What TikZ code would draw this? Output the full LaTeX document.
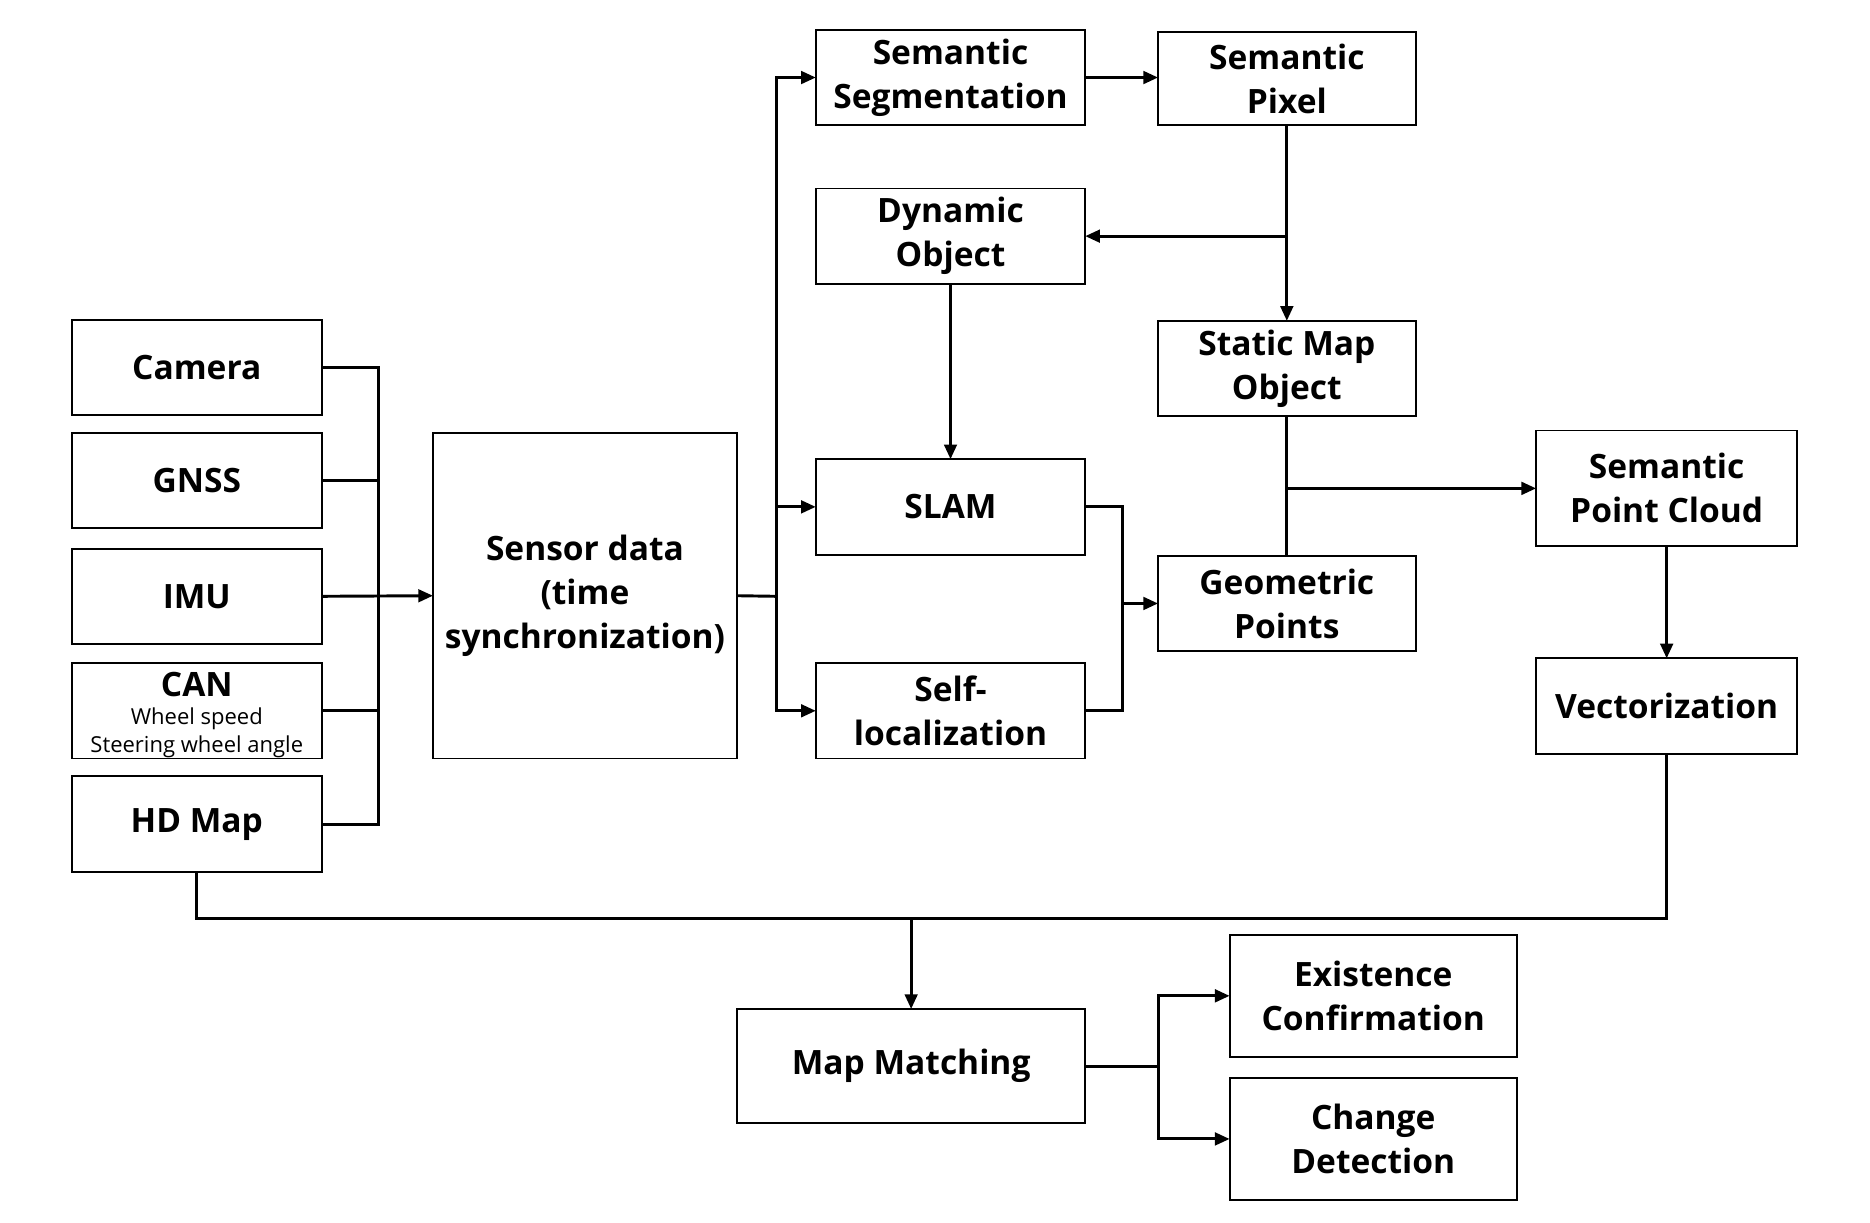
\documentclass[tikz,border=0pt]{standalone}
\usepackage{fontspec}
\setmainfont{Open Sans}
\usetikzlibrary{arrows.meta}
\begin{document}
\begin{tikzpicture}[x=0.02cm,y=-0.02cm,
  box/.style={draw,line width=0.9pt,rectangle,inner sep=0pt,outer sep=0pt,align=center,
    font=\fontsize{16}{21}\selectfont\bfseries},
  txt/.style={inner sep=0pt,outer sep=0pt,font=\fontsize{16}{21}\selectfont\bfseries},
  smalltxt/.style={inner sep=0pt,outer sep=0pt,font=\fontsize{10.5}{12}\selectfont},
  line/.style={line width=1.4pt},
  arr/.style={line width=1.4pt,-{Triangle[length=7pt,width=6pt]}}]
\useasboundingbox[fill=white] (0,0) rectangle (1568,1025);
% sensors
\node[box,minimum width=4.2cm,minimum height=1.6cm] (cam) at (165,308) {Camera};
\node[box,minimum width=4.2cm,minimum height=1.6cm] (gnss) at (165,403) {GNSS};
\node[box,minimum width=4.2cm,minimum height=1.6cm] (imu) at (165,500) {IMU};
\node[box,minimum width=4.2cm,minimum height=1.6cm] (can) at (165,596) {};
\node[txt] (canT) at (165,574) {CAN};
\node[smalltxt] (canW) at (165,603) {Wheel speed};
\node[smalltxt] (canS) at (165,626) {Steering wheel angle};
\node[box,minimum width=4.2cm,minimum height=1.6cm] (hd) at (165,691) {HD Map};
\node[box,minimum width=5.1cm,minimum height=5.46cm] (sensor) at (490.5,499.5)
  {Sensor data\\(time\\synchronization)};
% middle
\node[box,minimum width=4.52cm,minimum height=1.6cm] (seg) at (797,65) {Semantic\\Segmentation};
\node[box,minimum width=4.32cm,minimum height=1.56cm] (pix) at (1079,66) {Semantic\\Pixel};
\node[box,minimum width=4.52cm,minimum height=1.6cm] (dyn) at (797,198) {Dynamic\\Object};
\node[box,minimum width=4.32cm,minimum height=1.6cm] (static) at (1079,309) {Static Map\\Object};
\node[box,minimum width=4.52cm,minimum height=1.6cm] (slam) at (797,425) {SLAM};
\node[box,minimum width=4.52cm,minimum height=1.6cm] (selfloc) at (797,596) {Self-\\localization};
\node[box,minimum width=4.32cm,minimum height=1.6cm] (geo) at (1079,506) {Geometric\\Points};
\node[box,minimum width=4.38cm,minimum height=1.94cm] (spc) at (1397.5,409.5) {Semantic\\Point Cloud};
\node[box,minimum width=4.38cm,minimum height=1.6cm] (vec) at (1397.5,592) {Vectorization};
% bottom
\node[box,minimum width=5.84cm,minimum height=1.92cm] (mm) at (764,894) {Map Matching};
\node[box,minimum width=4.82cm,minimum height=2.04cm] (exist) at (1151.5,835) {Existence\\Confirmation};
\node[box,minimum width=4.82cm,minimum height=2.04cm] (change) at (1151.5,955) {Change\\Detection};
% coordinates
\coordinate (bt) at (317,308);
\coordinate (sx) at (651,500);
\coordinate (jx) at (941,506);
\coordinate (by) at (764,770);
\coordinate (mx) at (971,894);
% sensor bus
\draw[line] (cam.east) -- (bt) |- (hd.east);
\draw[line] (gnss.east) -- (gnss.east -| bt);
\draw[line] (can.east) -- (can.east -| bt);
\draw[arr] (imu.east) -- (sensor.west);
% sensor outputs
\draw[line] (sensor.east) -- (sx);
\draw[arr] (sx) |- (seg.west);
\draw[arr] (sx) |- (selfloc.west);
\draw[arr] (sx |- slam.west) -- (slam.west);
% semantic chain
\draw[arr] (seg.east) -- (seg.east -| pix.west);
\draw[arr] (pix.south) -- (static.north);
\draw[arr] (pix.south |- dyn.east) -- (dyn.east);
\draw[arr] (dyn.south) -- (slam.north);
\draw[line] (slam.east) -| (jx);
\draw[line] (selfloc.east) -| (jx);
\draw[arr] (jx) -- (geo.west);
\draw[line] (static.south) -- (geo.north);
\draw[arr] (static.south |- spc.west) -- (spc.west);
\draw[arr] (spc.south) -- (vec.north);
% matching
\draw[line] (vec.south) |- (by);
\draw[line] (hd.south) |- (by);
\draw[arr] (by) -- (mm.north);
\draw[line] (mm.east) -- (mx);
\draw[arr] (mx) |- (exist.west);
\draw[arr] (mx) |- (change.west);
\end{tikzpicture}
\end{document}
